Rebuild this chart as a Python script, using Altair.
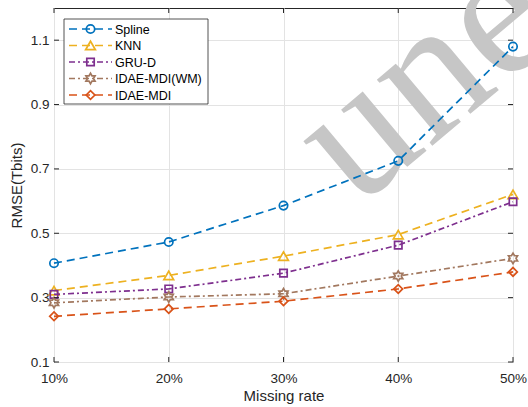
import math
import altair as alt
import pandas as pd

# ---------------- data ----------------
rates = [10, 20, 30, 40, 50]
series_names = ["Spline", "KNN", "GRU-D", "IDAE-MDI(WM)", "IDAE-MDI"]
spline = [0.407, 0.473, 0.586, 0.725, 1.080]
knn = [0.322, 0.369, 0.429, 0.496, 0.621]
grud = [0.310, 0.327, 0.376, 0.463, 0.598]
idae_wm = [0.284, 0.302, 0.312, 0.367, 0.422]
idae = [0.242, 0.265, 0.289, 0.327, 0.380]
x_ticks = [10, 20, 30, 40, 50]
y_ticks = [0.1, 0.3, 0.5, 0.7, 0.9, 1.1]
watermark_text = "une"

# ---------------- styles ----------------
colors = ["#0072BD", "#EDB120", "#7E2F8E", "#A2785F", "#D95319"]
dashes = [[8, 5], [8, 5], [6, 3, 2, 3], [6, 3, 2, 3], [8, 5]]

def hexagram():
    pts = []
    for k in range(12):
        a = math.radians(-90 + 30 * k)
        r = 1.0 if k % 2 == 0 else 0.577
        pts.append(f"{r*math.cos(a):.3f},{r*math.sin(a):.3f}")
    return "M" + " L".join(pts) + " Z"

shapes = ["circle", "triangle-up", "square", hexagram(), "diamond"]
sizes = [70, 95, 55, 110, 75]

W, H = 459, 354
FONT = "Liberation Sans"

xscale = alt.Scale(domain=[10, 50], nice=False, zero=False)
yscale = alt.Scale(domain=[0.1, 1.2], nice=False, zero=False)
xaxis = alt.Axis(values=x_ticks, labelExpr="datum.value + '%'", title="Missing rate",
                 grid=True, ticks=False, domain=False, labelFlush=False,
                 labelPadding=9, titlePadding=4)
yaxis = alt.Axis(values=y_ticks, format=".1f", title="RMSE(Tbits)",
                 grid=True, ticks=False, domain=False, labelFlush=False,
                 labelPadding=5, titlePadding=6)
X = alt.X("rate:Q", scale=xscale, axis=xaxis)
Y = alt.Y("rmse:Q", scale=yscale, axis=yaxis)

all_vals = [spline, knn, grud, idae_wm, idae]
layers = []

# watermark
wm_df = pd.DataFrame({"t": [watermark_text]})
layers.append(
    alt.Chart(wm_df).mark_text(font="Liberation Serif", fontSize=188, angle=320,
                               align="left", baseline="alphabetic",
                               color="#c6c6c6").encode(
        x=alt.value(303), y=alt.value(201), text="t:N")
)

for name, vals, c, d, s, sz in zip(series_names, all_vals, colors, dashes, shapes, sizes):
    df = pd.DataFrame({"rate": rates, "rmse": vals, "series": name})
    base = alt.Chart(df).encode(x=X, y=Y)
    layers.append(base.mark_line(color=c, strokeDash=d, strokeWidth=1.7))
    layers.append(base.mark_point(shape=s, size=sz, color=c, filled=False,
                                  strokeWidth=1.7, opacity=1))

# inward ticks
ytdf = pd.DataFrame({"rmse": y_ticks})
xtdf = pd.DataFrame({"rate": x_ticks})
tick_color = "#262626"
layers.append(alt.Chart(ytdf).mark_rule(color=tick_color).encode(y=Y, x=alt.value(0), x2=alt.value(5)))
layers.append(alt.Chart(ytdf).mark_rule(color=tick_color).encode(y=Y, x=alt.value(W), x2=alt.value(W - 5)))
layers.append(alt.Chart(xtdf).mark_rule(color=tick_color).encode(x=X, y=alt.value(H), y2=alt.value(H - 5)))
layers.append(alt.Chart(xtdf).mark_rule(color=tick_color).encode(x=X, y=alt.value(0), y2=alt.value(5)))

# legend
one = pd.DataFrame({"k": [0]})
layers.append(alt.Chart(one).mark_rect(fill="white", stroke="#262626", strokeWidth=0.8).encode(
    x=alt.value(10), x2=alt.value(154), y=alt.value(11), y2=alt.value(96)))
row_y = [21, 37.5, 54, 70.5, 87]
for i, (name, c, d, s, sz) in enumerate(zip(series_names, colors, dashes, shapes, sizes)):
    ry = row_y[i]
    ldf = pd.DataFrame({"label": [name]})
    layers.append(alt.Chart(ldf).mark_rule(color=c, strokeDash=d, strokeWidth=1.7).encode(
        x=alt.value(15), x2=alt.value(58), y=alt.value(ry)))
    layers.append(alt.Chart(ldf).mark_point(shape=s, size=sz, color=c, filled=False,
                                            strokeWidth=1.7, opacity=1).encode(
        x=alt.value(36.5), y=alt.value(ry)))
    layers.append(alt.Chart(ldf).mark_text(align="left", baseline="middle", font=FONT,
                                           fontSize=12.5, color="#000000").encode(
        x=alt.value(61), y=alt.value(ry + 0.5), text="label:N"))

chart = alt.layer(*layers).properties(
    width=W, height=H,
    autosize=alt.AutoSizeParams(type="none"),
    padding={"left": 54, "top": 8, "right": 15, "bottom": 45},
    background="white",
).configure_view(
    stroke="#262626", strokeWidth=1
).configure_axis(
    labelFont=FONT, titleFont=FONT, labelFontSize=13.5, titleFontSize=15,
    labelColor="#262626", titleColor="#262626", titleFontWeight="normal",
    gridColor="#e3e3e3", gridWidth=1
)

chart.save("out.html", embed_options={"renderer": "svg", "actions": False})
